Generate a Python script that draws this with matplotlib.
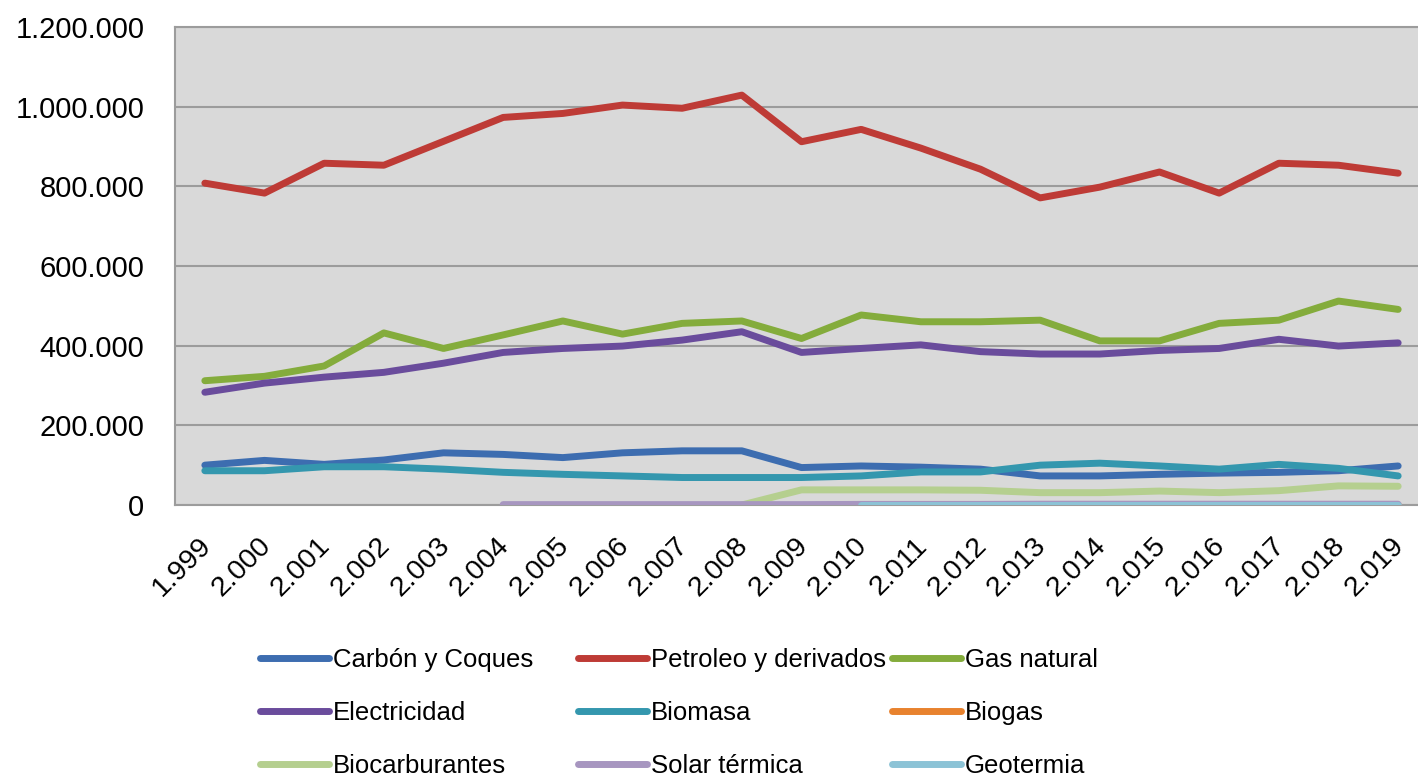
import matplotlib.pyplot as plt
import matplotlib.transforms as mtransforms
import numpy as np

plt.rcParams["font.family"] = ["Liberation Sans", "DejaVu Sans"]

nan = np.nan
years = list(range(1999, 2020))
year_labels = [f"{y // 1000}.{y % 1000:03d}" for y in years]

carbon = [100, 112, 102, 113, 131, 127, 119, 131, 136, 136, 94, 98, 95, 90,
          73, 73, 77, 80, 82, 86, 98]
petroleo = [808, 783, 858, 853, 913, 973, 983, 1004, 996, 1029, 912, 943,
            896, 843, 771, 798, 836, 783, 858, 853, 833]
gas_natural = [312, 323, 349, 432, 393, 427, 462, 429, 456, 462, 418, 477,
               460, 460, 464, 412, 412, 456, 464, 512, 491]
electricidad = [283, 306, 321, 333, 356, 383, 393, 399, 414, 435, 383, 393,
                402, 385, 379, 379, 388, 393, 416, 399, 407]
biomasa = [86, 86, 96, 96, 90, 82, 77, 73, 69, 69, 69, 73, 83, 83, 100, 105,
           98, 90, 102, 92, 73]
biogas = [nan] * 11 + [0.5] * 10
biocarburantes = [nan] * 9 + [0, 38, 38, 38, 37, 31, 31, 35, 31, 36, 48, 47]
solar_termica = [nan] * 5 + [1, 1, 1, 1, 1, 1, 1.5, 1.5, 1.5, 2, 2, 2, 2, 2, 2, 2]
geotermia = [nan] * 11 + [0.5] * 10

series = [
    ("Carbón y Coques", carbon, "#3D6DB0"),
    ("Petroleo y derivados", petroleo, "#BE3B36"),
    ("Gas natural", gas_natural, "#84AC3C"),
    ("Electricidad", electricidad, "#6A4C9C"),
    ("Biomasa", biomasa, "#3497AE"),
    ("Biogas", biogas, "#E8822E"),
    ("Biocarburantes", biocarburantes, "#B5CF8F"),
    ("Solar térmica", solar_termica, "#A796C0"),
    ("Geotermia", geotermia, "#8CC3D6"),
]

W, H = 1418, 780
fig = plt.figure(figsize=(W / 100, H / 100), dpi=100)
ax = fig.add_axes([175 / W, (H - 505) / H, 1253 / W, 478 / H])
ax.set_facecolor("#D9D9D9")

x = np.arange(len(years))
handles = {}
for name, vals, color in series:
    (ln,) = ax.plot(x, np.array(vals, dtype=float) * 1000, color=color, lw=5,
                    solid_capstyle="round", solid_joinstyle="round",
                    label=name, zorder=3)
    handles[name] = ln

ax.set_xlim(-0.5, len(years) - 0.5)
ax.set_ylim(0, 1200000)
yt = np.arange(0, 1200001, 200000)
ax.set_yticks(yt)
ax.set_yticklabels(["0" if v == 0 else f"{v:,}".replace(",", ".") for v in yt])
ax.yaxis.grid(True, color="#9C9C9C", lw=1.5, zorder=1)
ax.set_axisbelow(True)
for s in ax.spines.values():
    s.set_color("#9C9C9C")
    s.set_linewidth(1.5)

ax.set_xticks(x)
ax.set_xticklabels(year_labels, rotation=45, ha="right", va="top",
                   rotation_mode="anchor")
ax.tick_params(axis="x", length=0, pad=20, labelsize=20.5)
ax.tick_params(axis="y", length=0, pad=22, labelsize=21)
offset = mtransforms.ScaledTranslation(-5 / 72, 0, fig.dpi_scale_trans)
for lbl in ax.get_xticklabels():
    lbl.set_transform(lbl.get_transform() + offset)

columns = [
    (260, ["Carbón y Coques", "Electricidad", "Biocarburantes"]),
    (578, ["Petroleo y derivados", "Biomasa", "Solar térmica"]),
    (892, ["Gas natural", "Biogas", "Geotermia"]),
]
for x0, names in columns:
    leg = fig.legend([handles[n] for n in names], names, loc="center left",
                     bbox_to_anchor=(x0 / W, (H - 713) / H), frameon=False,
                     fontsize=18.5, handlelength=2.7, handletextpad=0.15,
                     labelspacing=1.12, borderpad=0, borderaxespad=0)
    for h in leg.legend_handles:
        h.set_linewidth(5)

fig.savefig("out.png", dpi=100)
